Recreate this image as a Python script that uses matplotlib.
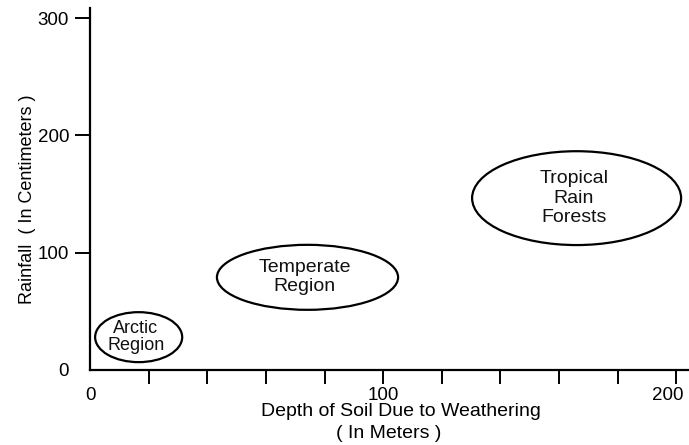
import matplotlib.pyplot as plt
from matplotlib.patches import Ellipse
from matplotlib.transforms import ScaledTranslation

plt.rcParams['font.family'] = ['Liberation Sans', 'DejaVu Sans']

# regions: centre (depth, rainfall), width, height
regions = ['Arctic\nRegion', 'Temperate\nRegion', 'Tropical\nRain\nForests']
centre_x = [16.6, 74.2, 166.0]
centre_y = [28.0, 79.0, 146.5]
widths = [29.7, 61.8, 71.3]
heights = [42.6, 55.4, 80.0]

x_ticks = [0, 20, 40, 60, 80, 100, 120, 140, 160, 180, 200]
x_labels = ['0', '', '', '', '', '100', '', '', '', '', '200']
y_ticks = [0, 100, 200, 300]
y_labels = ['0', '100', '200', '300']

fig = plt.figure(figsize=(6.89, 4.45), dpi=100)
ax = fig.add_axes([90 / 689, 75 / 445, 598 / 689, 362.5 / 445])

text_sizes = [13, 14, 14]
spacings = [1.05, 1.18, 1.18]
for name, cx, cy, w, h, fs, ls in zip(regions, centre_x, centre_y, widths, heights,
                                      text_sizes, spacings):
    ax.add_patch(Ellipse((cx, cy), w, h, fill=False, edgecolor='black', lw=1.6))
    ax.text(cx - 1, cy, name, ha='center', va='center', fontsize=fs,
            linespacing=ls, color='#111111')

ax.set_xlim(0, 204)
ax.set_ylim(0, 309)

ax.spines['top'].set_visible(False)
ax.spines['right'].set_visible(False)
for s in ['left', 'bottom']:
    ax.spines[s].set_linewidth(1.6)

ax.set_xticks(x_ticks)
ax.set_xticklabels(x_labels)
ax.set_yticks(y_ticks)
ax.set_yticklabels(y_labels)
ax.tick_params(axis='x', direction='out', length=10, width=1.4, pad=2, labelsize=13.5)
ax.tick_params(axis='y', direction='out', length=11, width=1.4, pad=4, labelsize=13.5)
ax.xaxis.get_major_ticks()[0].tick1line.set_visible(False)
ax.yaxis.get_major_ticks()[0].tick1line.set_visible(False)

# nudge the "200" label left so it stays inside the picture
lab200 = ax.get_xticklabels()[-1]
lab200.set_transform(lab200.get_transform() + ScaledTranslation(-6 / 72, 0, fig.dpi_scale_trans))

ax.set_ylabel('Rainfall  ( In Centimeters )', fontsize=13, labelpad=3)
ax.yaxis.set_label_coords(-0.09, 0.47)
ax.text(0.52, -0.115, 'Depth of Soil Due to Weathering', transform=ax.transAxes,
        ha='center', va='center', fontsize=14)
ax.text(0.50, -0.175, '( In Meters )', transform=ax.transAxes,
        ha='center', va='center', fontsize=14)

fig.savefig('out.png', dpi=100)
